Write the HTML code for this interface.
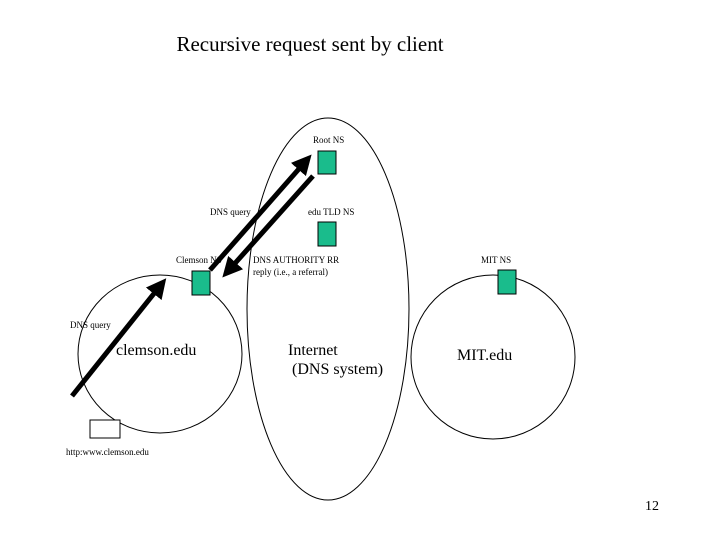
<!DOCTYPE html>
<html><head><meta charset="utf-8"><style>
body{margin:0;background:#fff;}
svg{display:block;font-family:"Liberation Serif",serif;}
</style></head><body>
<svg width="720" height="540" viewBox="0 0 720 540">
<defs><marker id="a" markerWidth="4" markerHeight="4" refX="2" refY="2" orient="auto" markerUnits="strokeWidth"><path d="M0,0 L4,2 L0,4 Z" fill="#000"/></marker></defs>
<text x="310" y="51" font-size="21" text-anchor="middle">Recursive request sent by client</text>
<ellipse cx="328" cy="309" rx="81" ry="191" fill="none" stroke="#000" stroke-width="1"/>
<ellipse cx="160" cy="354" rx="82" ry="79" fill="none" stroke="#000" stroke-width="1"/>
<ellipse cx="493" cy="357" rx="82" ry="82" fill="none" stroke="#000" stroke-width="1"/>
<g fill="#1abc8c" stroke="#000" stroke-width="1">
<rect x="318" y="151" width="18" height="23"/>
<rect x="318" y="222" width="18" height="24"/>
<rect x="192" y="271" width="18" height="24"/>
<rect x="498" y="270" width="18" height="24"/>
</g>
<rect x="90" y="420" width="30" height="18" fill="#fff" stroke="#000"/>
<g stroke="#000" stroke-width="5" marker-end="url(#a)">
<line x1="210" y1="270" x2="305" y2="162"/>
<line x1="313" y1="176" x2="229" y2="270"/>
<line x1="72" y1="396" x2="160" y2="286"/>
</g>
<g font-size="9">
<text x="313" y="143">Root NS</text>
<text x="210" y="215">DNS query</text>
<text x="308" y="215">edu TLD NS</text>
<text x="176" y="263">Clemson NS</text>
<text x="253" y="263">DNS AUTHORITY RR</text>
<text x="253" y="275">reply (i.e., a referral)</text>
<text x="481" y="263">MIT NS</text>
<text x="70" y="328">DNS query</text>
<text x="66" y="455">http:www.clemson.edu</text>
</g>
<g font-size="16">
<text x="116" y="355">clemson.edu</text>
<text x="288" y="355">Internet</text>
<text x="292" y="374">(DNS system)</text>
<text x="457" y="360">MIT.edu</text>
</g>
<text x="645" y="510" font-size="14">12</text>
</svg>
</body></html>
